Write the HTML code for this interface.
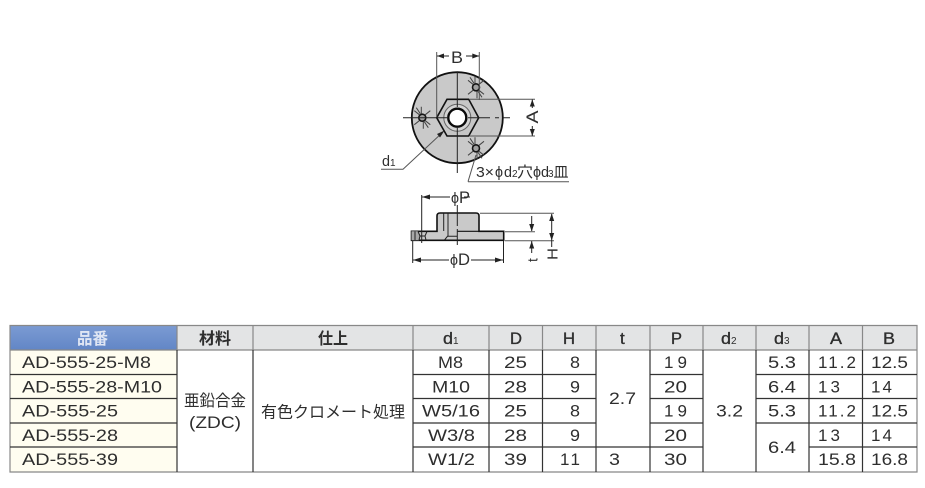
<!DOCTYPE html>
<html><head><meta charset="utf-8"><style>
html,body{margin:0;padding:0;background:#fff;width:925px;height:488px;overflow:hidden}
svg{display:block}
text{font-family:"Liberation Sans","Noto Sans CJK JP",sans-serif;fill:#2e2e2e;font-size:17px}
.j{font-size:16px}
.b{font-weight:bold}
.s{font-size:10px}
.m{font-size:15px}
.h{stroke:#2e2e2e;stroke-width:.35}
.d{stroke:#222;stroke-width:1;fill:none}
.g{stroke:#555;stroke-width:1;fill:none}
.a{fill:#222;stroke:none}
.t{stroke:#333;stroke-width:1.2;fill:none}
.t2{stroke:#888;stroke-width:1.2;fill:none}
</style></head><body>
<svg width="925" height="488" viewBox="0 0 925 488" xmlns="http://www.w3.org/2000/svg">
<defs><linearGradient id="bl" x1="0" y1="0" x2="0" y2="1"><stop offset="0" stop-color="#7b9bd3"/><stop offset="1" stop-color="#6286c6"/></linearGradient>
<g id="hole"><path d="M-8 -7L-3 -3M8 -7L3 -3M-8 7L-3 3M8 7L3 3M-1 -11V-4M1 4V11M-6 -10L-2 -4M6 10L2 4" stroke="#444" stroke-width="1" fill="none"/><circle r="3.5" fill="#a0a0a0" stroke="#151515" stroke-width="1.6"/></g></defs>

<!-- Top view -->
<circle cx="457.3" cy="117.7" r="45.5" fill="#c9c9c9" stroke="#111" stroke-width="1.8"/>
<polygon points="436.7,117.7 447,99.3 468.7,99.3 478.7,117.7 468.7,136 447,136" fill="#c6c6c6" stroke="#111" stroke-width="1.6"/>
<circle cx="457.3" cy="117.7" r="13.5" fill="#d4d4d4" stroke="#666" stroke-width="1"/>
<circle cx="457.3" cy="117.7" r="9" fill="#fff" stroke="#0a0a0a" stroke-width="2.4"/>
<use href="#hole" x="476" y="87.3"/><use href="#hole" x="422.3" y="117.7"/><use href="#hole" x="476" y="148.3"/>
<path class="d" d="M457.3 72V107M457.3 128V173M403 117.7H447M468 117.7H490M495 117.7H499M503 117.7H510"/>
<path class="g" d="M436.7 52V117M479.3 52V100M470 99.3H535M470 136H535"/>
<path class="d" d="M437 56H449M466 56H479M532.3 99.5V108M532.3 126V136"/>
<polygon class="a" points="437,56 444,53.5 444,58.5"/><polygon class="a" points="479.3,56 472.3,53.5 472.3,58.5"/>
<polygon class="a" points="532.3,99.5 529.8,106.5 534.8,106.5"/><polygon class="a" points="532.3,136 529.8,129 534.8,129"/>
<text x="451" y="63" textLength="12" lengthAdjust="spacingAndGlyphs">B</text>
<text transform="translate(538,123.5) rotate(-90)" textLength="13" lengthAdjust="spacingAndGlyphs">A</text>
<text x="382" y="166" textLength="8" lengthAdjust="spacingAndGlyphs" class="m">d</text><text x="390" y="166" class="s">1</text>
<path class="g" d="M381 169.3H403L441.7 133.3"/>
<polygon class="a" points="444.5,130.5 437,134 440,137.5"/>
<path class="g" d="M468 181.7H569M468 181.7L476 155" stroke="#777"/>
<text x="476" y="177" textLength="18" lengthAdjust="spacingAndGlyphs" class="m">3×</text>
<text x="495" y="177" textLength="8" lengthAdjust="spacingAndGlyphs" class="m">ϕ</text>
<text x="504" y="177" textLength="8" lengthAdjust="spacingAndGlyphs" class="m">d</text>
<text x="512" y="177" class="s">2</text>
<text x="517" y="177" textLength="16" lengthAdjust="spacingAndGlyphs" class="m">穴</text>
<text x="533" y="177" textLength="8" lengthAdjust="spacingAndGlyphs" class="m">ϕ</text>
<text x="541" y="177" textLength="8" lengthAdjust="spacingAndGlyphs" class="m">d</text>
<text x="548" y="177" class="s">3</text>
<text x="553.5" y="177" textLength="15" lengthAdjust="spacingAndGlyphs" class="m">皿</text>

<!-- Side view -->
<path d="M411.5 231.3H437V216Q437 213 440 213H476Q479 213 479 216V231.3H503.7V240.3H411.5Z" fill="#c9c9c9" stroke="#111" stroke-width="1.6"/>
<path d="M411.5 231.3H418L421 236L419 240.3H411.5Z" fill="#a8a8a8"/>
<path class="d" d="M443.7 213.5V231M448 213.5V236.5M444.5 240L447.5 236.3H457.3M415 231.5V240M418 231.5L420 236H425L427 231.5M420 236L419 240M425 236L426 240"/>
<path d="M457.3 231.3H479" stroke="#111" stroke-width="1.2" fill="none"/>
<path class="d" d="M421.7 195V243"/>
<path class="d" d="M457.3 205V226M457.3 229V245"/>
<path class="d" d="M422 197H450M464 197H470"/>
<polygon class="a" points="422,197 430,194.5 430,199.5"/>
<text x="451" y="203" textLength="8" lengthAdjust="spacingAndGlyphs" class="m">ϕ</text>
<text x="459" y="203" textLength="11" lengthAdjust="spacingAndGlyphs">P</text>
<path class="d" d="M412.7 241V263M503.5 241V263M413 260H449M471 260H503"/>
<polygon class="a" points="413,260 421,257.5 421,262.5"/><polygon class="a" points="503,260 495,257.5 495,262.5"/>
<text x="450" y="265" textLength="8" lengthAdjust="spacingAndGlyphs" class="m">ϕ</text>
<text x="458" y="265" textLength="12" lengthAdjust="spacingAndGlyphs">D</text>
<path class="g" d="M480 213.3H554M505 240.7H554M505 231.7H535"/>
<path class="d" d="M531.7 216V231M531.7 241V253M551.7 214V247"/>
<polygon class="a" points="531.7,231.5 529.2,224 534.2,224"/><polygon class="a" points="531.7,241 529.2,248.5 534.2,248.5"/>
<polygon class="a" points="551.7,213.5 549.2,221 554.2,221"/><polygon class="a" points="551.7,240.5 549.2,233 554.2,233"/>
<text transform="translate(537.5,262) rotate(-90)" style="font-size:14px">t</text>
<text transform="translate(557.5,260) rotate(-90)" textLength="12" lengthAdjust="spacingAndGlyphs" class="m">H</text>

<!-- Table backgrounds -->
<rect x="10" y="325.5" width="167" height="24.5" fill="url(#bl)"/>
<rect x="177" y="325.5" width="740" height="24.5" fill="#e3e4e5"/>
<rect x="10" y="350" width="167" height="122" fill="#fffdf0"/>
<!-- Table lines -->
<path class="t2" d="M10 325.5H917V472H10Z"/>
<path class="t2" d="M177 325.5V350M253 325.5V350M413 325.5V350M489 325.5V350M542.5 325.5V350M596 325.5V350M650 325.5V350M703 325.5V350M756 325.5V350M809 325.5V350M862.5 325.5V350M10 350H917"/>
<path class="t" d="M177 350V472M253 350V472M413 350V472M489 350V472M542.5 350V472M596 350V472M650 350V472M703 350V472M756 350V472M809 350V472M862.5 350V472"/>
<path class="t" d="M10 374.5H177M413 374.5H596M650 374.5H703M756 374.5H917"/>
<path class="t" d="M10 398.5H177M413 398.5H596M650 398.5H703M756 398.5H917"/>
<path class="t" d="M10 423H177M413 423H596M650 423H703M756 423H917"/>
<path class="t" d="M10 447H177M413 447H703M809 447H917"/>

<!-- Header -->
<text x="77" y="344" textLength="31" lengthAdjust="spacingAndGlyphs" class="b j" style="fill:#dfe6f4">品番</text>
<text x="199" y="344" textLength="32" lengthAdjust="spacingAndGlyphs" class="b j">材料</text>
<text x="318" y="344" textLength="30" lengthAdjust="spacingAndGlyphs" class="b j">仕上</text>
<text x="443" y="344" textLength="10" lengthAdjust="spacingAndGlyphs" class="h">d</text><text x="453" y="344" class="s">1</text>
<text x="510" y="344" textLength="12" lengthAdjust="spacingAndGlyphs" class="h">D</text>
<text x="563" y="344" textLength="12" lengthAdjust="spacingAndGlyphs" class="h">H</text>
<text x="620" y="344" class="h">t</text>
<text x="671" y="344" textLength="11" lengthAdjust="spacingAndGlyphs" class="h">P</text>
<text x="721" y="344" textLength="10" lengthAdjust="spacingAndGlyphs" class="h">d</text><text x="731" y="344" class="s">2</text>
<text x="774" y="344" textLength="10" lengthAdjust="spacingAndGlyphs" class="h">d</text><text x="784" y="344" class="s">3</text>
<text x="830" y="344" textLength="12" lengthAdjust="spacingAndGlyphs" class="h">A</text>
<text x="883" y="344" textLength="12" lengthAdjust="spacingAndGlyphs" class="h">B</text>

<!-- Part numbers -->
<text x="22" y="368" textLength="129" lengthAdjust="spacingAndGlyphs">AD-555-25-M8</text>
<text x="22" y="392.5" textLength="140" lengthAdjust="spacingAndGlyphs">AD-555-28-M10</text>
<text x="22" y="416.5" textLength="96" lengthAdjust="spacingAndGlyphs">AD-555-25</text>
<text x="22" y="441" textLength="96" lengthAdjust="spacingAndGlyphs">AD-555-28</text>
<text x="22" y="465" textLength="96" lengthAdjust="spacingAndGlyphs">AD-555-39</text>

<!-- Material and finish -->
<text x="184" y="406" textLength="62" lengthAdjust="spacingAndGlyphs" class="j">亜鉛合金</text>
<text x="189" y="428" textLength="52" lengthAdjust="spacingAndGlyphs">(ZDC)</text>
<text x="261" y="417.5" textLength="144" lengthAdjust="spacingAndGlyphs" class="j">有色クロメート処理</text>

<!-- Row 1 -->
<text x="438" y="368" textLength="25" lengthAdjust="spacingAndGlyphs">M8</text>
<text x="504" y="368" textLength="23" lengthAdjust="spacingAndGlyphs">25</text>
<text x="570" y="368" textLength="10" lengthAdjust="spacingAndGlyphs">8</text>
<text x="664" y="368" textLength="23" lengthAdjust="spacing">19</text>
<text x="768" y="368" textLength="28" lengthAdjust="spacingAndGlyphs">5.3</text>
<text x="818" y="368" textLength="38" lengthAdjust="spacing">11.2</text>
<text x="871" y="368" textLength="37" lengthAdjust="spacingAndGlyphs">12.5</text>
<!-- Row 2 -->
<text x="432" y="392.5" textLength="38" lengthAdjust="spacingAndGlyphs">M10</text>
<text x="504" y="392.5" textLength="23" lengthAdjust="spacingAndGlyphs">28</text>
<text x="570" y="392.5" textLength="10" lengthAdjust="spacingAndGlyphs">9</text>
<text x="664" y="392.5" textLength="23" lengthAdjust="spacingAndGlyphs">20</text>
<text x="768" y="392.5" textLength="28" lengthAdjust="spacingAndGlyphs">6.4</text>
<text x="818" y="392.5" textLength="22" lengthAdjust="spacing">13</text>
<text x="871" y="392.5" textLength="21" lengthAdjust="spacing">14</text>
<!-- Row 3 -->
<text x="422" y="416.5" textLength="58" lengthAdjust="spacingAndGlyphs">W5/16</text>
<text x="504" y="416.5" textLength="23" lengthAdjust="spacingAndGlyphs">25</text>
<text x="570" y="416.5" textLength="10" lengthAdjust="spacingAndGlyphs">8</text>
<text x="664" y="416.5" textLength="23" lengthAdjust="spacing">19</text>
<text x="768" y="416.5" textLength="28" lengthAdjust="spacingAndGlyphs">5.3</text>
<text x="818" y="416.5" textLength="38" lengthAdjust="spacing">11.2</text>
<text x="871" y="416.5" textLength="37" lengthAdjust="spacingAndGlyphs">12.5</text>
<!-- Row 4 -->
<text x="428" y="441" textLength="47" lengthAdjust="spacingAndGlyphs">W3/8</text>
<text x="504" y="441" textLength="23" lengthAdjust="spacingAndGlyphs">28</text>
<text x="570" y="441" textLength="10" lengthAdjust="spacingAndGlyphs">9</text>
<text x="664" y="441" textLength="23" lengthAdjust="spacingAndGlyphs">20</text>
<text x="818" y="441" textLength="22" lengthAdjust="spacing">13</text>
<text x="871" y="441" textLength="21" lengthAdjust="spacing">14</text>
<!-- Row 5 -->
<text x="428" y="465" textLength="47" lengthAdjust="spacingAndGlyphs">W1/2</text>
<text x="504" y="465" textLength="23" lengthAdjust="spacingAndGlyphs">39</text>
<text x="560" y="465" textLength="20" lengthAdjust="spacing">11</text>
<text x="609" y="465" textLength="11" lengthAdjust="spacingAndGlyphs">3</text>
<text x="664" y="465" textLength="23" lengthAdjust="spacingAndGlyphs">30</text>
<text x="818" y="465" textLength="38" lengthAdjust="spacingAndGlyphs">15.8</text>
<text x="871" y="465" textLength="37" lengthAdjust="spacingAndGlyphs">16.8</text>
<!-- Merged -->
<text x="609" y="404" textLength="27" lengthAdjust="spacingAndGlyphs">2.7</text>
<text x="716" y="416.5" textLength="27" lengthAdjust="spacingAndGlyphs">3.2</text>
<text x="768" y="453" textLength="28" lengthAdjust="spacingAndGlyphs">6.4</text>
</svg>
</body></html>
